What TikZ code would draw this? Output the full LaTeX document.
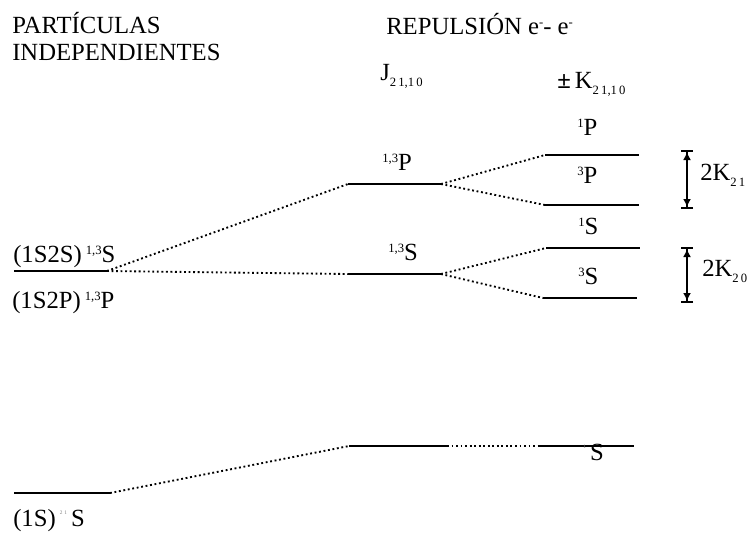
\documentclass[tikz,border=0pt]{standalone}
\usepackage{fontspec}
\setmainfont{Liberation Serif}
\usetikzlibrary{arrows.meta}
\newcommand{\supx}[1]{\raisebox{6pt}{\fontsize{9.5}{9.5}\selectfont #1}}
\newcommand{\subx}[1]{\raisebox{-5pt}{\fontsize{9.5}{9.5}\selectfont #1}}
\newcommand{\tinyx}[1]{\raisebox{9pt}{\color{gray}\fontsize{4}{4}\selectfont #1}}

\begin{document}
\begin{tikzpicture}[
  x=0.75pt, y=-0.75pt,
  every node/.style={inner sep=0pt, anchor=base west, font=\fontsize{18.5}{22}\selectfont},
  level/.style={line width=1.5pt},
  link/.style={line width=1.4pt, dotted},
  gap/.style={line width=1.5pt, {Bar[width=9pt]Latex[length=6pt,width=6pt]}-{Latex[length=6pt,width=6pt]Bar[width=9pt]}}
]
\useasboundingbox (0,0) rectangle (752,533);
% energy levels
\foreach \n/\xa/\xb/\y in {ls/14/107/271, lg/14/110/493,
    mp/348/441/184, ms/348/441/274, mg/349/447/446,
    r1p/545/639/155, r3p/545/639/205, r1s/546/640/248, r3s/543/637/298, rg/538/634/446}
  {\coordinate (\n-w) at (\xa,\y);
   \coordinate (\n-e) at (\xb,\y);
   \draw[level] (\n-w) -- (\n-e);}
% correlation lines
\draw[link] (ls-e) -- (mp-w);
\draw[link] (ls-e) -- (ms-w);
\draw[link] (mp-e) -- (r1p-w);
\draw[link] (mp-e) -- (r3p-w);
\draw[link] (ms-e) -- (r1s-w);
\draw[link] (ms-e) -- (r3s-w);
\draw[link] (lg-e) -- (mg-w);
\draw[link] (mg-e) -- (rg-w);
% splittings
\coordinate (k1a) at (687,150);
\coordinate (k1b) at (687,209);
\coordinate (k0a) at (687,247);
\coordinate (k0b) at (687,303);
\draw[gap] (k1a) -- (k1b);
\draw[gap] (k0a) -- (k0b);
% headings
\node (hpi) at (12,33) {PARTÍCULAS};
\node (hpi2) at (12,60) {INDEPENDIENTES};
\node (hrep) at (386,34) {REPULSIÓN e\supx{-}- e\supx{-}};
\node (hj) at (380,80) {J\subx{2\,1,1\,0}};
\node (hk) at (557,88) {\textbf{±}\,K\subx{2\,1,1\,0}};
% level labels
\node (t1) at (13,262) {(1S2S)\,\supx{1,3}S};
\node (t2) at (12,308) {(1S2P)\,\supx{1,3}P};
\node (t3) at (13,526) {(1S)\,\tinyx{2\,\,1}\,S};
\node (t4) at (382,170) {\supx{1,3}P};
\node (t5) at (388,260) {\supx{1,3}S};
\node (t6) at (577,135) {\supx{1}P};
\node (t7) at (577,183) {\supx{3}P};
\node (t8) at (578,234) {\supx{1}S};
\node (t9) at (578,284) {\supx{3}S};
\node (t10) at (583,460) {\tinyx{1}\,S};
\node (t11) at (700,180) {2K\subx{2\,1}};
\node (t12) at (702,276) {2K\subx{2\,0}};
\end{tikzpicture}
\end{document}
